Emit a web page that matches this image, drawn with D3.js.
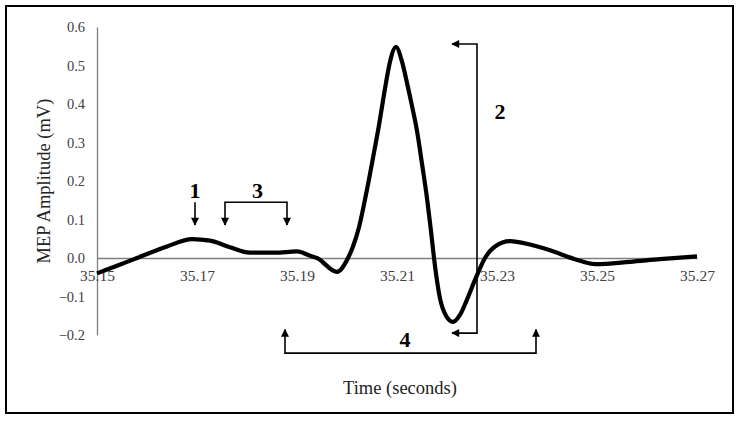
<!DOCTYPE html>
<html>
<head>
<meta charset="utf-8">
<script src="https://cdn.jsdelivr.net/npm/d3@7"></script>
<style>
  body { margin: 0; background: #fff; }
  svg text { font-family: "Liberation Serif", "Times New Roman", serif; }
</style>
</head>
<body>
<div id="chart"></div>
<script>
// MEP trace
const times = [35.15, 35.154, 35.158, 35.164, 35.169, 35.1726, 35.1766, 35.1806, 35.1856, 35.19,
  35.1926, 35.194, 35.198, 35.2, 35.2012, 35.2024, 35.2038, 35.2052, 35.2064, 35.2076,
  35.2086, 35.2098, 35.211, 35.212, 35.213, 35.214, 35.215, 35.216, 35.2168, 35.2174,
  35.2186, 35.2198, 35.2212, 35.2226, 35.224, 35.2256, 35.2276, 35.2296, 35.2326, 35.2366,
  35.2406, 35.2456, 35.2496, 35.2566, 35.2626, 35.27];
const amplitudes = [-0.04, -0.02, 0.0, 0.03, 0.049, 0.045, 0.028, 0.014, 0.014, 0.017,
  0.006, 0.0, -0.036, -0.005, 0.03, 0.08, 0.165, 0.26, 0.345, 0.44,
  0.51, 0.548, 0.51, 0.455, 0.395, 0.33, 0.245, 0.155, 0.07, 0.0,
  -0.105, -0.15, -0.166, -0.148, -0.108, -0.057, 0.0, 0.03, 0.044, 0.035,
  0.02, -0.003, -0.016, -0.01, -0.003, 0.004];

const xTicks = [35.15, 35.17, 35.19, 35.21, 35.23, 35.25, 35.27];
const yTicks = [-0.2, -0.1, 0.0, 0.1, 0.2, 0.3, 0.4, 0.5, 0.6];

const annoLabels = ["1", "2", "3", "4"];

const width = 740, height = 423;

const svg = d3.select("#chart").append("svg")
    .attr("width", width)
    .attr("height", height);

// outer frame
svg.append("rect")
    .attr("x", 6).attr("y", 6)
    .attr("width", 727).attr("height", 407)
    .attr("fill", "none")
    .attr("stroke", "#000")
    .attr("stroke-width", 2);

const x = d3.scaleLinear().domain([35.15, 35.27]).range([97, 697]);
const y = d3.scaleLinear().domain([-0.2, 0.6]).range([335, 27]);

// y axis
const yAxis = svg.append("g")
    .attr("transform", `translate(${x(35.15)},0)`)
    .call(d3.axisLeft(y).tickValues(yTicks).tickSize(0).tickPadding(12)
        .tickFormat(d => d3.format(".1f")(d).replace("-", "\u2212")));
yAxis.select(".domain").attr("stroke", "#7f7f7f").attr("stroke-width", 1.3);
yAxis.selectAll("text").attr("font-size", 14.5).attr("fill", "#404040")
    .style("font-family", "'Liberation Serif', serif");

// zero line with x labels hanging underneath
const xAxis = svg.append("g")
    .attr("transform", `translate(0,${y(0)})`)
    .call(d3.axisBottom(x).tickValues(xTicks).tickSize(0).tickPadding(12)
        .tickFormat(d3.format(".2f")));
xAxis.select(".domain").attr("stroke", "#7f7f7f").attr("stroke-width", 1.3);
xAxis.selectAll("text").attr("font-size", 15.5).attr("fill", "#404040")
    .style("font-family", "'Liberation Serif', serif");

// axis titles
svg.append("text")
    .attr("transform", `translate(50,${y(0.2)}) rotate(-90)`)
    .attr("text-anchor", "middle")
    .attr("font-size", 18.5)
    .attr("fill", "#222")
    .text("MEP Amplitude (mV)");

svg.append("text")
    .attr("x", x(35.2106))
    .attr("y", 394)
    .attr("text-anchor", "middle")
    .attr("font-size", 18.5)
    .attr("fill", "#222")
    .text("Time (seconds)");

// the trace
const line = d3.line()
    .x((d, i) => x(times[i]))
    .y(d => y(d))
    .curve(d3.curveMonotoneX);

svg.append("path")
    .datum(amplitudes)
    .attr("fill", "none")
    .attr("stroke", "#000")
    .attr("stroke-width", 4.2)
    .attr("stroke-linejoin", "round")
    .attr("d", line);

// arrowhead markers
const defs = svg.append("defs");
defs.append("marker")
    .attr("id", "arrow")
    .attr("viewBox", "0 0 10 10")
    .attr("refX", 9).attr("refY", 5)
    .attr("markerWidth", 9).attr("markerHeight", 8)
    .attr("markerUnits", "userSpaceOnUse")
    .attr("orient", "auto")
    .append("path")
    .attr("d", "M0,0 L10,5 L0,10 Z")
    .attr("fill", "#000");

defs.append("marker")
    .attr("id", "arrowStart")
    .attr("viewBox", "0 0 10 10")
    .attr("refX", 1).attr("refY", 5)
    .attr("markerWidth", 9).attr("markerHeight", 8)
    .attr("markerUnits", "userSpaceOnUse")
    .attr("orient", "auto")
    .append("path")
    .attr("d", "M10,0 L0,5 L10,10 Z")
    .attr("fill", "#000");

function bracket(points, heads) {
    const p = svg.append("path")
        .attr("d", d3.line()(points.map(([t, v]) => [x(t), y(v)])))
        .attr("fill", "none")
        .attr("stroke", "#000")
        .attr("stroke-width", 1.6);
    if (heads.includes("end")) p.attr("marker-end", "url(#arrow)");
    if (heads.includes("start")) p.attr("marker-start", "url(#arrowStart)");
    return p;
}

// 1: single arrow on first bump
bracket([[35.1696, 0.145], [35.1696, 0.086]], ["end"]);
// 3: bracket over plateau
bracket([[35.1756, 0.086], [35.1756, 0.145], [35.188, 0.145], [35.188, 0.086]], ["start", "end"]);
// 2: peak-to-peak bracket
bracket([[35.221, 0.556], [35.226, 0.556], [35.226, -0.195], [35.221, -0.195]], ["start", "end"]);
// 4: duration bracket below
bracket([[35.1876, -0.186], [35.1876, -0.247], [35.2378, -0.247], [35.2378, -0.186]], ["start", "end"]);

const annoPos = [[35.1696, 0.157], [35.2306, 0.36], [35.1821, 0.157], [35.2116, -0.232]];
svg.selectAll(".anno")
    .data(annoLabels)
    .enter()
    .append("text")
    .attr("class", "anno")
    .attr("x", (d, i) => x(annoPos[i][0]))
    .attr("y", (d, i) => y(annoPos[i][1]))
    .attr("text-anchor", "middle")
    .attr("font-size", 22)
    .attr("font-weight", "bold")
    .attr("fill", "#000")
    .text(d => d);
</script>
</body>
</html>
